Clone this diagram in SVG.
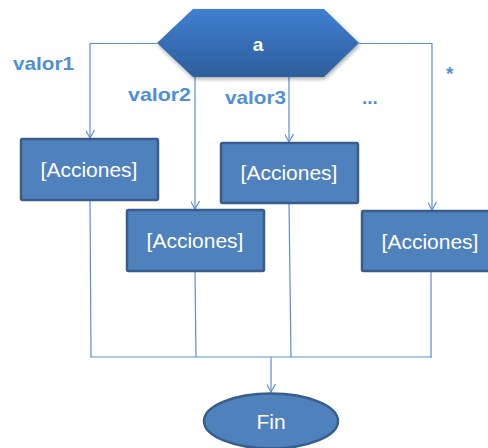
<svg xmlns="http://www.w3.org/2000/svg" width="488" height="448" viewBox="0 0 488 448">
<style>
.conn{fill:none;stroke:#5b8fd0;stroke-width:1.2}
.box{fill:#4f81bd;stroke:#385d8a;stroke-width:2.5}
.btxt{font-family:"Liberation Sans",Arial,sans-serif;font-size:21px;fill:#ffffff;text-anchor:middle}
.lbl{font-family:"Liberation Sans",Arial,sans-serif;font-size:19px;font-weight:bold;fill:#4f8fd9}
</style>
<defs>
<linearGradient id="hg" x1="0" y1="0" x2="0" y2="1">
<stop offset="0" stop-color="#3f7fd0"/>
<stop offset="1" stop-color="#2e5e9c"/>
</linearGradient>
<filter id="sh" x="-10%" y="-10%" width="130%" height="140%">
<feGaussianBlur in="SourceAlpha" stdDeviation="2"/>
<feOffset dx="1" dy="2" result="b"/>
<feComponentTransfer><feFuncA type="linear" slope="0.35"/></feComponentTransfer>
<feMerge><feMergeNode/><feMergeNode in="SourceGraphic"/></feMerge>
</filter>
<marker id="arr" viewBox="0 0 10 10" refX="9" refY="5" markerWidth="9" markerHeight="9" markerUnits="userSpaceOnUse" orient="auto">
<path d="M0,0 L9,5 L0,10" fill="none" stroke="#5b8fd0" stroke-width="1.3"/>
</marker>
</defs>
<g id="connectors">
<polyline class="conn" points="157,43.5 90,43.5 90,138" marker-end="url(#arr)"/>
<line class="conn" x1="195" y1="77" x2="195" y2="209" marker-end="url(#arr)"/>
<line class="conn" x1="289" y1="77" x2="289" y2="142" marker-end="url(#arr)"/>
<polyline class="conn" points="359,43.5 432,43.5 432,210" marker-end="url(#arr)"/>
<line class="conn" x1="90" y1="200" x2="91" y2="357"/>
<line class="conn" x1="195" y1="271" x2="196" y2="357"/>
<line class="conn" x1="289" y1="203" x2="291" y2="357"/>
<line class="conn" x1="431" y1="271" x2="431" y2="357"/>
<line class="conn" x1="90" y1="357" x2="432" y2="357"/>
<line class="conn" x1="271" y1="357" x2="271" y2="392" marker-end="url(#arr)"/>
</g>
<g id="decision">
<polygon points="157,43 193,9 324,9 359,43 324,77 193,77" fill="url(#hg)" filter="url(#sh)"/>
<text x="258" y="51" font-family="'Liberation Sans',Arial,sans-serif" font-size="19" font-weight="bold" fill="#ffffff" text-anchor="middle">a</text>
</g>
<g id="labels">
<text class="lbl" x="13" y="70" textLength="61" lengthAdjust="spacingAndGlyphs">valor1</text>
<text class="lbl" x="128" y="101" textLength="63" lengthAdjust="spacingAndGlyphs">valor2</text>
<text class="lbl" x="225" y="104" textLength="61" lengthAdjust="spacingAndGlyphs">valor3</text>
<text class="lbl" x="362" y="104">...</text>
<text class="lbl" x="446" y="80" font-size="16">*</text>
</g>
<g id="acc1">
<rect class="box" x="21" y="139" width="137" height="61" rx="1.5"/>
<text class="btxt" x="89" y="177">[Acciones]</text>
</g>
<g id="acc2">
<rect class="box" x="127" y="210" width="137" height="61" rx="1.5"/>
<text class="btxt" x="195" y="248">[Acciones]</text>
</g>
<g id="acc3">
<rect class="box" x="221" y="143" width="137" height="60" rx="1.5"/>
<text class="btxt" x="289" y="180">[Acciones]</text>
</g>
<g id="acc4">
<rect class="box" x="362" y="211" width="137" height="60" rx="1.5"/>
<text class="btxt" x="430" y="249">[Acciones]</text>
</g>
<g id="fin">
<ellipse cx="271" cy="421" rx="67" ry="27.5" fill="#4f81bd" stroke="#385d8a" stroke-width="2.5"/>
<text class="btxt" x="271" y="429" font-size="20">Fin</text>
</g>
</svg>
